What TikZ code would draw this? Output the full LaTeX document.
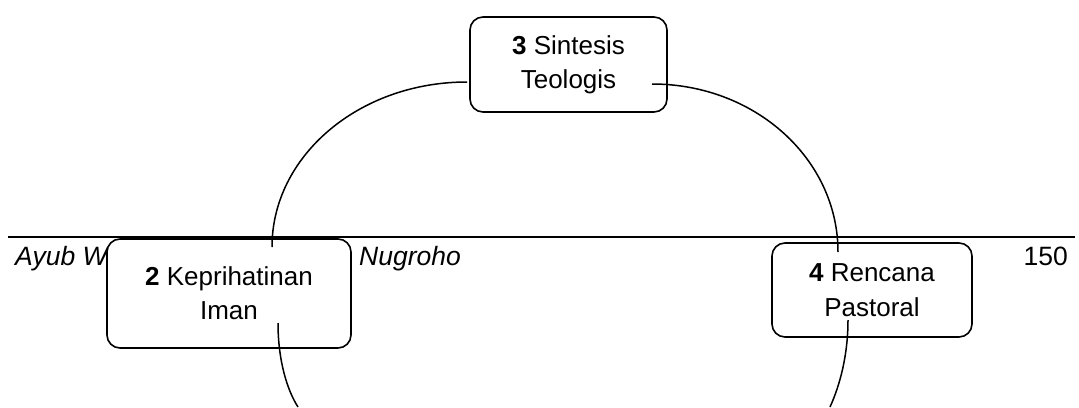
\documentclass[tikz,border=0pt]{standalone}
\usepackage{fontspec}
\setmainfont{Liberation Sans}
\begin{document}
\begin{tikzpicture}[x=1pt,y=-1pt,
  box/.style={draw, line width=1.6pt, rounded corners=13pt, fill=white, align=center, inner sep=0pt, font=\fontsize{26}{34}\selectfont},
  arcline/.style={line width=1.5pt},
  hdr/.style={font=\fontsize{26.5}{30}\selectfont\itshape, inner sep=0pt},
  pagenum/.style={font=\fontsize{26.5}{30}\selectfont, inner sep=0pt}]
\useasboundingbox (0,0) rectangle (1079,407);
% header rule and running head
\coordinate (hl) at (8,237);
\coordinate (hr) at (1075,237);
\draw[line width=2pt] (hl) -- (hr);
\node[hdr, anchor=base west] (auth1) at (15,265) {Ayub W};
\node[hdr, anchor=base west] (auth2) at (359,265) {Nugroho};
\node[pagenum, anchor=base east] (page) at (1068,265) {150};
% boxes
\node[box, minimum width=197pt, minimum height=95pt] (n3) at (568.5,64.5) {\textbf{3} Sintesis\\Teologis};
\node[box, minimum width=244pt, minimum height=109pt] (n2) at (229,293.5) {\textbf{2} Keprihatinan\\Iman};
\node[box, minimum width=200pt, minimum height=94pt, font=\fontsize{26}{35}\selectfont] (n4) at (872,290) {\textbf{4} Rencana\\Pastoral};
% cycle arcs
\coordinate (a1s) at (467,82);
\coordinate (a1e) at (272,247);
\coordinate (a2s) at (652,84);
\coordinate (a2e) at (838,252);
\coordinate (a3s) at (278,323);
\coordinate (a3e) at (298,407);
\coordinate (a4s) at (848,320);
\coordinate (a4e) at (830,407);
\draw[arcline] (a1s) .. controls (359,82) and (272,156) .. (a1e);
\draw[arcline] (a2s) .. controls (755,84) and (838,159) .. (a2e);
\draw[arcline] (a3s) .. controls (278,360) and (287,390) .. (a3e);
\draw[arcline] (a4s) .. controls (848,355) and (840,385) .. (a4e);
\end{tikzpicture}
\end{document}
